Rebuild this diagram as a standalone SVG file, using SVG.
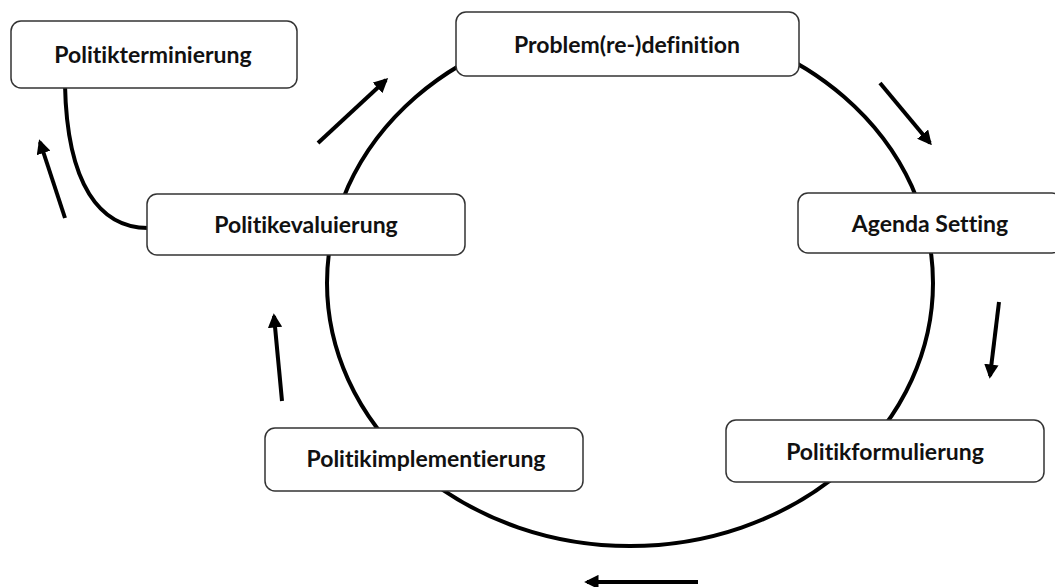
<svg xmlns="http://www.w3.org/2000/svg" width="1055" height="587" viewBox="0 0 1055 587">
  <defs>
    <marker id="head" viewBox="0 0 10 10" refX="8" refY="5" markerWidth="3.6" markerHeight="3.6" markerUnits="strokeWidth" orient="auto">
      <path d="M0,0 L10,5 L0,10 Z" fill="#000"/>
    </marker>
    <style>
      .box { fill: #fff; stroke: #333; stroke-width: 1.5; }
      .lbl { font-family: Lato, "Open Sans", "Liberation Sans", sans-serif; font-weight: 700; font-size: 23px; fill: #111; text-anchor: middle; font-variant-ligatures: none; }
      .cycle { fill: none; stroke: #000; stroke-width: 4; }
      .arrow { stroke: #000; stroke-width: 4; fill: none; marker-end: url(#head); }
    </style>
  </defs>
  <rect width="1055" height="587" fill="#fff"/>

  <g id="connectors">
    <ellipse class="cycle" cx="630" cy="283" rx="303" ry="263"/>
    <path class="cycle" d="M65,85 C67,185 100,228 148,228"/>
    <line class="arrow" x1="318" y1="143" x2="386" y2="80"/>
    <line class="arrow" x1="880" y1="83" x2="930" y2="143"/>
    <line class="arrow" x1="999" y1="302" x2="990" y2="376"/>
    <line class="arrow" x1="698" y1="582" x2="587" y2="582"/>
    <line class="arrow" x1="282" y1="401" x2="274" y2="316"/>
    <line class="arrow" x1="65" y1="218" x2="40" y2="142"/>
  </g>

  <g id="politikterminierung">
    <rect class="box" x="11" y="21" width="286" height="67" rx="10"/>
    <text class="lbl" x="153" y="63">Politikterminierung</text>
  </g>
  <g id="problemdefinition">
    <rect class="box" x="456" y="12" width="343" height="64" rx="10"/>
    <text class="lbl" x="627" y="53">Problem(re-)definition</text>
  </g>
  <g id="agenda-setting">
    <rect class="box" x="798" y="193" width="264" height="60" rx="10"/>
    <text class="lbl" x="930" y="232">Agenda Setting</text>
  </g>
  <g id="politikformulierung">
    <rect class="box" x="726" y="420" width="318" height="62" rx="10"/>
    <text class="lbl" x="885" y="460">Politikformulierung</text>
  </g>
  <g id="politikimplementierung">
    <rect class="box" x="265" y="428" width="318" height="63" rx="10"/>
    <text class="lbl" x="426" y="467">Politikimplementierung</text>
  </g>
  <g id="politikevaluierung">
    <rect class="box" x="147" y="194" width="318" height="61" rx="10"/>
    <text class="lbl" x="306" y="233">Politikevaluierung</text>
  </g>
</svg>
